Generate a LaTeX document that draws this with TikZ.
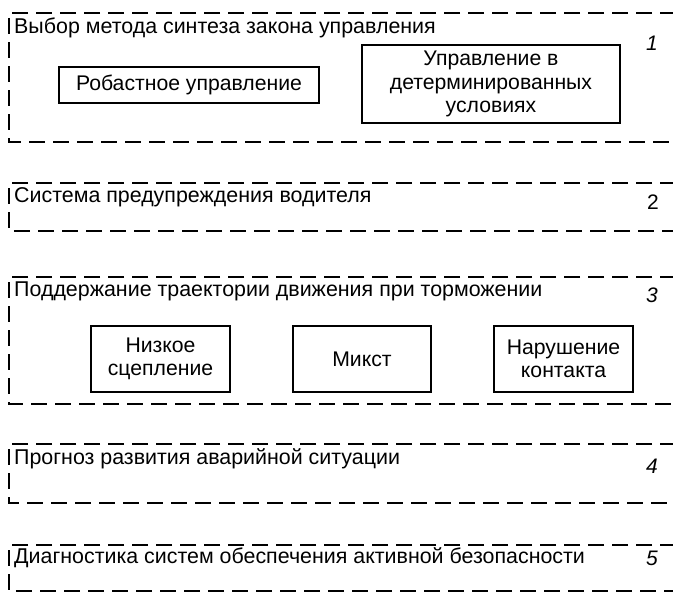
\documentclass[tikz,border=0pt]{standalone}
\usepackage{fontspec}
\setmainfont{Liberation Sans}
\begin{document}
\begin{tikzpicture}[x=1pt,y=-1pt,
  grp/.style={draw=black,line width=1.8pt,dash pattern=on 16pt off 8pt},
  inbox/.style={draw=black,line width=1.7pt,align=center,inner sep=0pt,font=\fontsize{21.2}{23.5}\selectfont},
  head/.style={anchor=base west,inner sep=0pt,font=\fontsize{21.4}{24}\selectfont},
  num/.style={inner sep=0pt,font=\fontsize{21}{24}\selectfont\itshape}]
\useasboundingbox (0,0) rectangle (673,597);
% group frames (open to the right, running off the picture)
\draw[grp] (700,13) -- (9,13) -- (9,142) -- (700,142);
\draw[grp] (700,183) -- (9,183) -- (9,231) -- (700,231);
\draw[grp] (700,277) -- (9,277) -- (9,404) -- (700,404);
\draw[grp] (700,444) -- (9,444) -- (9,503) -- (700,503);
\draw[grp] (700,545) -- (9,545) -- (9,591) -- (700,591);
% headers
\node[head] (h1) at (14,34) {Выбор метода синтеза закона управления};
\node[head] (h2) at (14,202) {Система предупреждения водителя};
\node[head] (h3) at (14,296) {Поддержание траектории движения при торможении};
\node[head] (h4) at (14,464) {Прогноз развития аварийной ситуации};
\node[head] (h5) at (14,563) {Диагностика систем обеспечения активной безопасности};
% numbers
\node[num] (n1) at (652,43) {1};
\node[num,font=\fontsize{21}{24}\selectfont] (n2) at (653,202) {2};
\node[num] (n3) at (652,295) {3};
\node[num] (n4) at (652,466) {4};
\node[num] (n5) at (652,558) {5};
% inner boxes
\node[inbox,minimum width=260pt,minimum height=36pt] (rob) at (189,85) {Робастное управление};
\node[inbox,minimum width=258pt,minimum height=78pt] (det) at (491,84) {Управление в\\детерминированных\\условиях};
\node[inbox,minimum width=139pt,minimum height=66pt] (low) at (160.5,359) {Низкое\\сцепление};
\node[inbox,minimum width=138pt,minimum height=66pt] (mix) at (362,359) {Микст};
\node[inbox,minimum width=139pt,minimum height=66pt] (cont) at (563.5,359) {Нарушение\\контакта};
\end{tikzpicture}
\end{document}
